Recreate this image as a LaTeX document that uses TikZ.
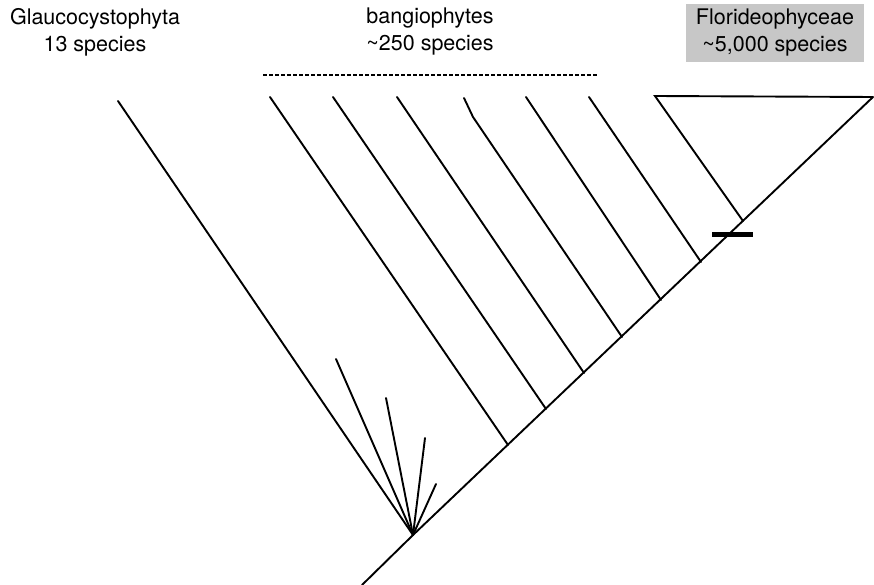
\documentclass[tikz,border=0pt]{standalone}
\usepackage{fontspec}
\setsansfont{TeX Gyre Heros}
\usetikzlibrary{positioning}

\begin{document}
\begin{tikzpicture}[
    x=1pt, y=-1pt,
    font=\sffamily\fontsize{21.5}{27}\selectfont,
    branch/.style={line width=1.9pt, draw=black, line cap=round},
    groupline/.style={line width=1.7pt, draw=black, dash pattern=on 3.6pt off 2.4pt},
    synapo/.style={line width=5pt, draw=black},
    grouplabel/.style={align=center, inner sep=0pt},
    graybox/.style={grouplabel, fill=black!22, minimum width=178pt, minimum height=58pt}
]
\useasboundingbox (0,0) rectangle (874,585);

% spine and root
\coordinate (base) at (362,585);
\coordinate (root) at (413,535);
\coordinate (tip) at (873,97);

% points where branches meet the spine
\coordinate (j1) at (508,445);
\coordinate (j2) at (546,409);
\coordinate (j3) at (584,373);
\coordinate (j4) at (622,337);
\coordinate (j5) at (661,300);
\coordinate (j6) at (701,262);
\coordinate (jf) at (743,221);

% branch ends
\coordinate (glauco) at (118,101);
\coordinate (b1) at (270,97);
\coordinate (b2) at (333,97);
\coordinate (b3) at (397,97);
\coordinate (b4) at (464,98);
\coordinate (b4k) at (473,117);
\coordinate (b5) at (526,97);
\coordinate (b6) at (589,97);
\coordinate (flor) at (655,96);

% fan at the root
\coordinate (f1) at (336,359);
\coordinate (f2) at (386,398);
\coordinate (f3) at (425,438);
\coordinate (f4) at (436,484);

\draw[branch] (base) -- (root) -- (tip);
\draw[branch] (root) -- (glauco);
\foreach \f in {f1,f2,f3,f4}
    \draw[branch] (root) -- (\f);

\draw[branch] (j1) -- (b1);
\draw[branch] (j2) -- (b2);
\draw[branch] (j3) -- (b3);
\draw[branch] (j4) -- (b4k) -- (b4);
\draw[branch] (j5) -- (b5);
\draw[branch] (j6) -- (b6);
\draw[branch] (jf) -- (flor) -- (tip);

% synapomorphy bar
\coordinate (barl) at (712,234.5);
\coordinate (barr) at (753,234.5);
\draw[synapo] (barl) -- (barr);

% bangiophyte grade
\coordinate (dashl) at (263,75);
\coordinate (dashr) at (597,75);
\draw[groupline] (dashl) -- (dashr);

% labels
\node[grouplabel] (glaucolabel) at (95,32) {Glaucocystophyta\\13 species};
\node[grouplabel] (banglabel) at (430,32) {bangiophytes\\\textasciitilde250 species};
\node[graybox] (florlabel) at (775,33) {Florideophyceae\\\textasciitilde5,000 species};
\end{tikzpicture}
\end{document}
